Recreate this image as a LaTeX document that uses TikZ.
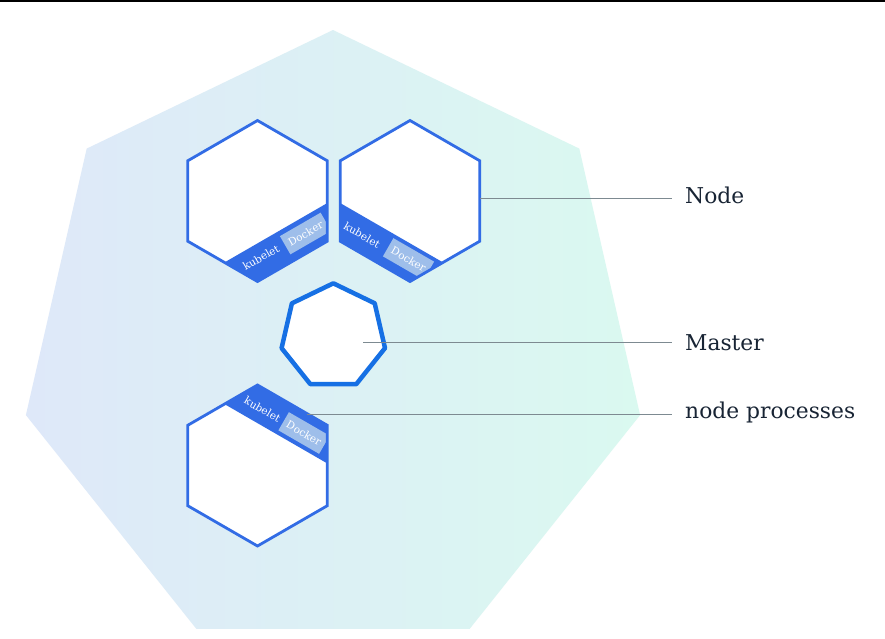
\documentclass[tikz,border=0pt]{standalone}
\usepackage{fontspec}
\setmainfont{DejaVu Serif}
\definecolor{kblue}{RGB}{50,108,229}
\definecolor{mblue}{RGB}{22,112,228}
\definecolor{dockerblue}{RGB}{158,190,234}
\definecolor{hepL}{RGB}{222,232,249}
\definecolor{hepR}{RGB}{218,249,240}
\definecolor{linegray}{RGB}{125,138,145}
\definecolor{navy}{RGB}{24,36,52}
\begin{document}
\begin{tikzpicture}[x=1pt,y=-1pt,
  hexat/.style 2 args={insert path={(#1,#2-80.5) -- ++(69.7,40.25) -- ++(0,80.5) -- ++(-69.7,40.25) -- ++(-69.7,-40.25) -- ++(0,-80.5) -- cycle}},
  hexline/.style={draw=kblue, line width=2.8pt, line join=miter},
  band/.style={fill=kblue},
  kubelettext/.style={text=white, font=\fontsize{10.5}{12}\selectfont, inner sep=0pt},
  dockerbox/.style={fill=dockerblue, text=white, font=\fontsize{10.5}{12}\selectfont, minimum width=47pt, minimum height=21pt, inner sep=0pt},
  callout/.style={draw=linegray, line width=0.9pt},
  lbl/.style={text=navy, font=\fontsize{21.8}{24}\selectfont, anchor=base west, inner sep=0pt}
]
\useasboundingbox (0,0) rectangle (885,638);
\fill[white] (0,0) rectangle (885,638);
\fill[black] (0,0) rectangle (885,2);

% big heptagon
\shade[left color=hepL, right color=hepR]
  (333,30) -- (86.7,148.6) -- (25.9,415.1) -- (196.3,628.8) -- (469.7,628.8) -- (640.1,415.1) -- (579.3,148.6) -- cycle;

% Node hexagon 1 (upper left)
\path[fill=white, hexat={257.5}{201}];
\begin{scope}
  \path[clip, hexat={257.5}{201}];
  \fill[band] (327.2,203.1) -- (327.2,241.25) -- (257.5,281.5) -- (224.5,262.4) -- cycle;
  \node[kubelettext, rotate=30] (kub1) at (261,257.5) {kubelet};
  \node[dockerbox, rotate=30] (dock1) at (305.5,233.5) {Docker};
\end{scope}
\path[hexline, hexat={257.5}{201}];

% Node hexagon 2 (upper right)
\path[fill=white, hexat={410}{201}];
\begin{scope}
  \path[clip, hexat={410}{201}];
  \fill[band] (340.3,203.1) -- (340.3,241.25) -- (410,281.5) -- (443,262.4) -- cycle;
  \node[kubelettext, rotate=-30] (kub2) at (362,235) {kubelet};
  \node[dockerbox, rotate=-30] (dock2) at (408.5,259) {Docker};
\end{scope}
\path[hexline, hexat={410}{201}];

% Node hexagon 3 (bottom)
\path[fill=white, hexat={257.5}{465.5}];
\begin{scope}
  \path[clip, hexat={257.5}{465.5}];
  \fill[band] (257.5,385) -- (327.2,425.25) -- (327.2,463.35) -- (224.5,404.1) -- cycle;
  \node[kubelettext, rotate=-30] (kub3) at (262.5,409.5) {kubelet};
  \node[dockerbox, rotate=-30] (dock3) at (304,433) {Docker};
\end{scope}
\path[hexline, hexat={257.5}{465.5}];

% Master heptagon
\draw[draw=mblue, fill=white, line width=4.5pt, line join=round]
  (333.3,283.3) -- (291.9,303.3) -- (281.6,348.1) -- (310.3,384.1) -- (356.3,384.1) -- (385.0,348.1) -- (374.7,303.3) -- cycle;

% labels and callouts
\coordinate (nodeTip) at (480,198.5);
\coordinate (masterTip) at (363,342);
\coordinate (procTip) at (307,414);
\node[lbl] (lblNode) at (685,203.5) {Node};
\node[lbl] (lblMaster) at (685,350) {Master};
\node[lbl] (lblProc) at (685,418) {node processes};
\draw[callout] (nodeTip) -- ([xshift=-13pt]nodeTip -| lblNode.west);
\draw[callout] (masterTip) -- ([xshift=-13pt]masterTip -| lblMaster.west);
\draw[callout] (procTip) -- ([xshift=-13pt]procTip -| lblProc.west);
\end{tikzpicture}
\end{document}
